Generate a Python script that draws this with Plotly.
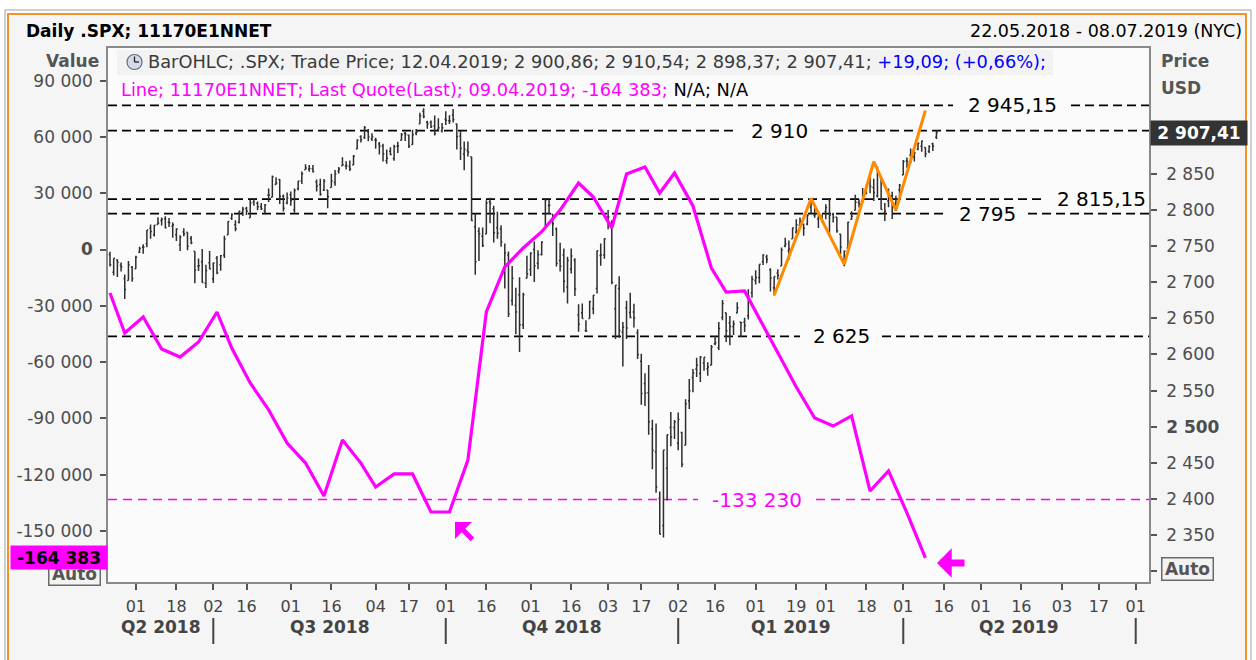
import pandas as pd
import plotly.graph_objects as go

# trading sessions shown on the time axis (22.05.2018 - 08.07.2019, NYSE calendar)
HOLIDAYS = ["2018-05-28", "2018-07-04", "2018-09-03", "2018-11-22", "2018-12-05",
            "2018-12-25", "2019-01-01", "2019-01-21", "2019-02-18", "2019-04-19",
            "2019-05-27", "2019-07-04"]
SESSIONS = pd.bdate_range("2018-05-22", "2019-07-08", freq="C", holidays=HOLIDAYS)

# .SPX daily bars, one row per month (May 2018 ... Apr 2019)
OPEN = [
    2738.34, 2713.98, 2730.94, 2723.60, 2705.11, 2702.43, 2720.98,
    2718.70, 2741.67, 2748.46, 2753.25, 2774.84, 2765.84, 2780.18, 2785.60, 2787.94, 2783.21, 2777.78, 2765.79, 2752.01, 2769.73, 2769.28, 2760.79, 2742.94, 2722.12, 2728.45, 2698.69, 2727.13,
    2704.95, 2733.27, 2724.19, 2737.68, 2765.79, 2788.56, 2779.82, 2783.14, 2796.93, 2802.35, 2789.34, 2811.35, 2809.37, 2804.55, 2799.17, 2820.68, 2817.73, 2835.49, 2842.35, 2819.00, 2809.73,
    2821.17, 2800.48, 2829.62, 2840.29, 2855.92, 2856.79, 2857.19, 2838.90, 2835.46, 2827.88, 2827.95, 2831.44, 2838.32, 2853.93, 2861.51, 2860.99, 2860.29, 2862.35, 2884.69, 2901.45, 2900.62, 2908.94, 2898.37,
    2896.96, 2891.59, 2888.64, 2868.26, 2881.39, 2871.57, 2888.29, 2896.85, 2906.38, 2903.83, 2890.74, 2906.60, 2919.73, 2936.76, 2921.83, 2921.75, 2916.98, 2911.65, 2910.03,
    2926.29, 2923.80, 2931.69, 2919.35, 2902.54, 2877.53, 2882.51, 2873.90, 2776.87, 2770.54, 2763.83, 2767.05, 2811.67, 2802.00, 2775.66, 2773.94, 2721.03, 2737.87, 2674.88, 2667.86, 2682.65, 2640.68, 2705.60,
    2717.58, 2745.45, 2726.37, 2738.40, 2774.13, 2806.38, 2794.10, 2773.93, 2730.05, 2737.90, 2693.52, 2718.54, 2730.74, 2654.60, 2657.74, 2633.36, 2649.97, 2663.75, 2691.45, 2736.97, 2737.76,
    2790.50, 2782.43, 2663.51, 2691.26, 2630.86, 2664.44, 2658.23, 2658.70, 2629.68, 2590.75, 2559.90, 2547.05, 2496.77, 2465.38, 2400.56, 2363.12, 2442.50, 2498.77, 2498.94,
    2476.96, 2491.92, 2474.33, 2535.61, 2568.11, 2580.00, 2573.51, 2588.11, 2580.31, 2585.10, 2614.75, 2609.28, 2651.27, 2657.88, 2643.48, 2638.84, 2657.44, 2644.97, 2644.89, 2653.62, 2685.49,
    2702.32, 2706.49, 2728.34, 2735.05, 2717.53, 2692.36, 2712.40, 2722.61, 2750.30, 2743.50, 2760.24, 2769.28, 2779.05, 2780.24, 2780.67, 2804.35, 2792.36, 2787.50, 2788.11,
    2798.22, 2814.37, 2794.41, 2790.27, 2766.53, 2730.79, 2747.61, 2787.34, 2799.78, 2810.38, 2810.79, 2822.61, 2840.76, 2831.34, 2819.72, 2844.52, 2796.01, 2812.66, 2819.72, 2809.40, 2828.27,
    2848.63, 2868.24, 2876.09, 2873.99, 2884.16, 2888.46, 2886.58, 2881.37, 2891.92, 2900.86,
]
HIGH = [
    2742.24, 2733.33, 2731.97, 2727.36, 2710.67, 2729.34, 2722.50,
    2736.93, 2749.16, 2752.61, 2772.39, 2779.90, 2779.39, 2790.21, 2789.80, 2791.47, 2789.06, 2782.81, 2774.99, 2765.05, 2774.86, 2769.28, 2764.17, 2742.94, 2732.91, 2746.09, 2724.34, 2743.26,
    2727.26, 2736.58, 2737.83, 2764.41, 2784.65, 2795.58, 2785.91, 2799.22, 2804.53, 2804.55, 2814.19, 2816.76, 2812.05, 2809.70, 2808.61, 2829.99, 2848.03, 2845.57, 2843.17, 2821.74, 2824.46,
    2825.83, 2829.91, 2840.38, 2853.29, 2863.43, 2862.44, 2862.48, 2842.20, 2843.40, 2843.11, 2827.95, 2850.49, 2855.63, 2859.76, 2873.23, 2867.54, 2868.78, 2876.16, 2898.25, 2903.77, 2916.50, 2912.46, 2906.32,
    2900.18, 2894.21, 2892.05, 2883.81, 2886.93, 2890.43, 2894.65, 2906.76, 2908.30, 2904.65, 2911.17, 2912.36, 2934.80, 2940.91, 2923.79, 2923.95, 2931.15, 2927.22, 2920.53,
    2937.06, 2931.42, 2939.86, 2919.78, 2909.64, 2894.83, 2894.83, 2874.02, 2795.14, 2775.77, 2775.99, 2813.46, 2816.94, 2806.04, 2797.77, 2778.94, 2753.59, 2742.59, 2722.70, 2692.38, 2706.85, 2685.43, 2736.69,
    2741.67, 2756.55, 2744.27, 2756.82, 2815.15, 2814.75, 2794.10, 2775.99, 2754.60, 2746.80, 2735.38, 2746.75, 2733.16, 2669.44, 2670.73, 2647.55, 2674.35, 2682.53, 2744.00, 2753.75, 2760.88,
    2800.18, 2785.93, 2696.15, 2708.54, 2645.06, 2674.35, 2685.44, 2670.19, 2635.07, 2601.13, 2573.99, 2585.29, 2509.63, 2504.41, 2410.34, 2467.76, 2489.10, 2520.27, 2509.24,
    2519.49, 2493.14, 2538.07, 2566.16, 2579.82, 2595.32, 2597.82, 2596.27, 2589.32, 2613.08, 2625.76, 2645.06, 2675.47, 2657.88, 2653.19, 2647.20, 2672.38, 2644.97, 2650.93, 2690.44, 2708.95,
    2716.66, 2724.99, 2738.98, 2738.08, 2719.32, 2708.07, 2718.05, 2748.19, 2761.85, 2757.90, 2775.66, 2787.33, 2789.88, 2781.58, 2794.20, 2813.49, 2803.12, 2795.76, 2793.73,
    2808.02, 2816.88, 2796.44, 2790.27, 2767.25, 2744.13, 2784.00, 2798.32, 2821.24, 2815.00, 2830.73, 2835.41, 2852.42, 2843.54, 2860.31, 2846.16, 2809.79, 2829.87, 2825.56, 2819.71, 2836.03,
    2869.40, 2872.90, 2885.25, 2881.28, 2893.24, 2895.95, 2886.88, 2889.71, 2893.42, 2910.54,
]
LOW = [
    2721.88, 2709.54, 2707.38, 2714.99, 2676.81, 2702.43, 2700.68,
    2718.70, 2740.54, 2739.51, 2748.46, 2760.16, 2763.59, 2780.17, 2778.78, 2774.65, 2776.52, 2761.73, 2757.12, 2743.19, 2763.91, 2744.39, 2752.68, 2698.67, 2715.60, 2699.38, 2691.99, 2718.03,
    2698.95, 2711.16, 2716.02, 2733.52, 2765.79, 2786.24, 2770.77, 2781.53, 2791.69, 2793.07, 2789.24, 2805.89, 2799.77, 2800.01, 2795.14, 2811.12, 2817.73, 2835.26, 2808.34, 2798.11, 2808.06,
    2805.85, 2796.34, 2827.37, 2835.98, 2855.92, 2853.09, 2851.98, 2825.81, 2819.88, 2826.58, 2802.49, 2831.44, 2833.73, 2850.62, 2861.32, 2856.05, 2854.03, 2862.35, 2884.69, 2893.50, 2898.40, 2895.22, 2895.77,
    2885.13, 2876.92, 2867.29, 2864.12, 2875.94, 2868.29, 2879.20, 2896.39, 2895.77, 2886.16, 2890.43, 2903.82, 2919.73, 2927.11, 2912.63, 2913.70, 2903.28, 2909.27, 2907.50,
    2917.91, 2919.37, 2921.36, 2883.92, 2869.29, 2855.04, 2874.27, 2784.86, 2710.51, 2729.44, 2749.03, 2766.91, 2781.81, 2755.18, 2760.27, 2749.22, 2691.43, 2651.89, 2667.84, 2628.16, 2603.54, 2635.34, 2705.60,
    2708.85, 2700.44, 2717.94, 2737.08, 2774.13, 2794.99, 2764.24, 2722.00, 2714.98, 2685.75, 2670.75, 2712.16, 2681.09, 2631.52, 2649.82, 2631.09, 2649.97, 2655.89, 2684.38, 2722.94, 2732.76,
    2773.38, 2697.18, 2621.53, 2623.14, 2583.23, 2621.30, 2650.26, 2637.27, 2593.84, 2530.54, 2528.71, 2488.96, 2441.18, 2408.55, 2351.10, 2346.58, 2397.94, 2472.89, 2482.82,
    2467.47, 2443.96, 2474.33, 2524.56, 2547.56, 2568.89, 2562.02, 2577.40, 2570.41, 2585.10, 2612.68, 2606.36, 2647.58, 2617.27, 2612.86, 2627.01, 2657.33, 2624.06, 2631.05, 2648.34, 2678.65,
    2696.88, 2698.75, 2724.03, 2726.27, 2687.26, 2681.83, 2703.79, 2722.61, 2748.63, 2731.23, 2760.24, 2767.29, 2774.06, 2764.55, 2779.11, 2794.99, 2789.47, 2775.13, 2782.51,
    2787.38, 2767.66, 2782.97, 2768.69, 2739.09, 2722.27, 2747.61, 2786.73, 2799.78, 2803.46, 2810.79, 2821.99, 2823.27, 2812.43, 2817.38, 2800.47, 2785.02, 2803.99, 2787.72, 2798.77, 2819.23,
    2848.63, 2858.75, 2865.17, 2867.14, 2882.99, 2880.78, 2873.33, 2879.13, 2881.99, 2898.37,
]
CLOSE = [
    2724.44, 2733.29, 2727.76, 2721.33, 2689.86, 2724.01, 2705.27,
    2734.62, 2746.87, 2748.80, 2772.35, 2770.37, 2779.03, 2782.00, 2786.85, 2775.63, 2782.49, 2779.66, 2773.75, 2762.59, 2767.32, 2749.76, 2754.88, 2717.07, 2723.06, 2699.63, 2716.31, 2718.37,
    2726.71, 2713.22, 2736.61, 2759.82, 2784.17, 2793.84, 2774.02, 2798.29, 2801.31, 2798.43, 2809.55, 2815.62, 2804.49, 2801.83, 2806.98, 2820.40, 2846.07, 2837.44, 2818.82, 2802.60, 2816.29,
    2813.36, 2827.22, 2840.35, 2850.40, 2858.45, 2857.70, 2853.58, 2833.28, 2821.93, 2839.96, 2818.37, 2840.69, 2850.13, 2857.05, 2862.96, 2861.82, 2856.98, 2874.69, 2896.74, 2897.52, 2914.04, 2901.13, 2901.52,
    2896.72, 2888.60, 2878.05, 2871.68, 2877.13, 2887.89, 2888.92, 2904.18, 2904.98, 2888.80, 2904.31, 2907.95, 2930.75, 2929.67, 2919.37, 2915.56, 2905.97, 2914.00, 2913.98,
    2924.59, 2923.43, 2925.51, 2901.61, 2885.57, 2884.43, 2880.34, 2785.68, 2728.37, 2767.13, 2750.79, 2809.92, 2809.21, 2768.78, 2767.78, 2755.88, 2740.69, 2656.10, 2705.57, 2658.69, 2641.25, 2682.63, 2711.74,
    2740.37, 2723.06, 2738.31, 2755.45, 2813.89, 2806.83, 2781.01, 2726.22, 2722.18, 2701.58, 2730.20, 2736.27, 2690.73, 2641.89, 2649.93, 2632.56, 2673.45, 2682.17, 2743.79, 2737.80, 2760.17,
    2790.37, 2700.06, 2695.95, 2633.08, 2637.72, 2636.78, 2651.07, 2650.54, 2599.95, 2545.94, 2546.16, 2506.96, 2467.42, 2416.62, 2351.10, 2467.70, 2488.83, 2485.74, 2506.85,
    2510.03, 2447.89, 2531.94, 2549.69, 2574.41, 2584.96, 2596.64, 2596.26, 2582.61, 2610.30, 2616.10, 2635.96, 2670.71, 2632.90, 2638.70, 2642.33, 2664.76, 2643.85, 2640.00, 2681.05, 2704.10,
    2706.53, 2724.87, 2737.70, 2731.61, 2706.05, 2707.88, 2709.80, 2744.73, 2753.03, 2745.73, 2775.60, 2779.76, 2784.70, 2774.88, 2792.67, 2796.11, 2793.90, 2792.38, 2784.49,
    2803.69, 2792.81, 2789.65, 2771.45, 2748.93, 2743.07, 2783.30, 2791.52, 2810.92, 2808.48, 2822.48, 2832.94, 2832.57, 2824.23, 2854.88, 2800.71, 2798.36, 2818.46, 2805.37, 2815.44, 2834.40,
    2867.19, 2867.24, 2873.40, 2879.39, 2892.74, 2895.77, 2878.20, 2888.21, 2888.32, 2907.41,
]

# 11170E1NNET weekly net position
NET_DATES = [
    "2018-05-22", "2018-05-29", "2018-06-05", "2018-06-12", "2018-06-19", "2018-06-26",
    "2018-07-03", "2018-07-10", "2018-07-17", "2018-07-24", "2018-07-31", "2018-08-07",
    "2018-08-14", "2018-08-21", "2018-08-28", "2018-09-04", "2018-09-11", "2018-09-18",
    "2018-09-25", "2018-10-02", "2018-10-09", "2018-10-16", "2018-10-23", "2018-10-30",
    "2018-11-06", "2018-11-13", "2018-11-20", "2018-11-27", "2018-12-04", "2018-12-11",
    "2018-12-18", "2018-12-24", "2018-12-31", "2019-01-08", "2019-01-15", "2019-01-22",
    "2019-01-29", "2019-02-05", "2019-02-12", "2019-02-19", "2019-02-26", "2019-03-05",
    "2019-03-12", "2019-03-19", "2019-03-26", "2019-04-02", "2019-04-09",
]
NET_VALUES = [
    -23200, -44500, -36000, -53000, -57300, -49300,
    -33300, -52500, -71100, -85500, -103100, -113800,
    -131400, -101500, -113800, -126600, -119600, -119600,
    -139900, -139900, -112200, -33300, -9300, 800,
    9500, 21000, 35400, 28000, 11500, 40200,
    44000, 30100, 40800, 23200, -9900, -22700,
    -22100, -40200, -58900, -73300, -89800, -94100,
    -88700, -128700, -118000, -140400, -164383,
]

# drawn zigzag (price)
ZIGZAG_DATES = ["2019-02-08", "2019-02-25", "2019-03-08", "2019-03-20", "2019-03-28", "2019-04-09"]
ZIGZAG_PRICES = [2682, 2816, 2725, 2867, 2800, 2938]

# horizontal levels
PRICE_LEVELS = [2945.15, 2910, 2815.15, 2795, 2625]
NET_LEVEL = -133230

# time axis
TICK_DATES = [
    "2018-06-01", "2018-06-18", "2018-07-02", "2018-07-16", "2018-08-01", "2018-08-16",
    "2018-09-04", "2018-09-17", "2018-10-01", "2018-10-16", "2018-11-01", "2018-11-16",
    "2018-12-03", "2018-12-17", "2019-01-02", "2019-01-16", "2019-02-01", "2019-02-19",
    "2019-03-01", "2019-03-18", "2019-04-01", "2019-04-16", "2019-05-01", "2019-05-16",
    "2019-06-03", "2019-06-17", "2019-07-01",
]
QUARTER_ENDS = ["2018-07-02", "2018-10-01", "2019-01-02", "2019-04-01", "2019-07-01"]
QUARTER_NAMES = ["Q2 2018", "Q3 2018", "Q4 2018", "Q1 2019", "Q2 2019"]

PRICE_TICKS = [2350, 2400, 2450, 2500, 2550, 2600, 2650, 2700, 2750, 2800, 2850]
NET_TICKS = [-150000, -120000, -90000, -60000, -30000, 0, 30000, 60000, 90000]


# ---- helpers -------------------------------------------------------------
POS = {d.strftime("%Y-%m-%d"): i for i, d in enumerate(SESSIONS)}

W, H = 1256, 660
PL, PR, PT, PB = 108, 1149, 48, 582
XR = [-0.54, 281.6]
PRICE_RANGE = [2284.9, 3024.5]
NET_RANGE = [-177190, 107380]

MAGENTA = "#ff00ff"
ORANGE = "#ff8a00"
FONT = "DejaVu Sans"


def px(x):
    return (x - PL) / (PR - PL)


def py(y):
    return (PB - y) / (PB - PT)


def xfrac(i):
    return (i - XR[0]) / (XR[1] - XR[0])


def fmt(v, d=None):
    if d is None:
        d = 0 if float(v).is_integer() else 2
    return f"{v:,.{d}f}".replace(",", " ").replace(".", ",")


def note(x, y, text, xref="paper", yref="paper", xanchor="center", **kw):
    return dict(xref=xref, yref=yref, x=x, y=y, text=text, showarrow=False,
                xanchor=xanchor, yanchor="middle", **kw)


bars_x = list(range(len(CLOSE)))

fig = go.Figure()

fig.add_trace(go.Ohlc(
    x=bars_x, open=OPEN, high=HIGH, low=LOW, close=CLOSE,
    increasing_line_color="#2e2e2e", decreasing_line_color="#2e2e2e",
    line_width=1.5, tickwidth=0.35, hoverinfo="skip", yaxis="y",
))
fig.add_trace(go.Scatter(
    x=[POS[d] for d in ZIGZAG_DATES], y=ZIGZAG_PRICES, mode="lines",
    line=dict(color=ORANGE, width=3), hoverinfo="skip", yaxis="y",
))
fig.add_trace(go.Scatter(
    x=[POS[d] for d in NET_DATES], y=NET_VALUES, mode="lines",
    line=dict(color=MAGENTA, width=3.2), hoverinfo="skip", yaxis="y2",
))

shapes = []
# window frame and chart background
shapes.append(dict(type="rect", xref="paper", yref="paper", layer="below",
                   x0=px(5), x1=px(1251), y0=py(700), y1=py(10),
                   line=dict(color="#a0a0a0", width=1), fillcolor="#ffffff"))
shapes.append(dict(type="rect", xref="paper", yref="paper", layer="below",
                   x0=px(8), x1=px(1246), y0=py(700), y1=py(14),
                   line=dict(color="#f4922a", width=2), fillcolor="#f5f5f5"))
shapes.append(dict(type="rect", xref="paper", yref="paper", layer="below",
                   x0=0, x1=1, y0=0, y1=1, line=dict(width=0), fillcolor="#fbfbfb"))
# legend row highlight
shapes.append(dict(type="rect", xref="paper", yref="paper", layer="below",
                   x0=px(117), x1=px(1053), y0=py(75), y1=py(50),
                   line=dict(width=0), fillcolor="#f2f2f2"))
# clock icon
shapes.append(dict(type="circle", xref="paper", yref="paper", layer="above",
                   x0=px(127), x1=px(142), y0=py(69.5), y1=py(54.5),
                   line=dict(color="#5b6b82", width=1.2), fillcolor="#d4dbe6"))
shapes.append(dict(type="line", xref="paper", yref="paper", layer="above",
                   x0=px(134.5), x1=px(134.5), y0=py(62), y1=py(56.5),
                   line=dict(color="#222222", width=1.3)))
shapes.append(dict(type="line", xref="paper", yref="paper", layer="above",
                   x0=px(134.5), x1=px(139), y0=py(62), y1=py(62),
                   line=dict(color="#222222", width=1.3)))

annotations = []

# dashed levels with labels sitting in a gap of the line
LEVEL_LABEL_X = [px(1012), px(779), px(1101), px(987), px(841)]
for level, lx in zip(PRICE_LEVELS, LEVEL_LABEL_X):
    text = fmt(level)
    half = (0.6 * 20 * len(text) / 2 + 11) / (PR - PL)
    for x0, x1 in [(0, lx - half), (lx + half, 1)]:
        if x1 - x0 > 0.002 and x0 < 1:
            shapes.append(dict(type="line", xref="paper", yref="y", layer="below",
                               x0=x0, x1=min(x1, 1), y0=level, y1=level,
                               line=dict(color="#000000", width=1.8, dash="9px,5px")))
    annotations.append(note(lx, level, text, yref="y", font=dict(size=20, color="#000000")))

nx = px(757)
ntext = fmt(NET_LEVEL)
nhalf = (0.6 * 20 * len(ntext) / 2 + 11) / (PR - PL)
for x0, x1 in [(0, nx - nhalf), (nx + nhalf, 1)]:
    shapes.append(dict(type="line", xref="paper", yref="y2", layer="below",
                       x0=x0, x1=x1, y0=NET_LEVEL, y1=NET_LEVEL,
                       line=dict(color=MAGENTA, width=1.5, dash="9px,6px")))
annotations.append(note(nx, NET_LEVEL, ntext, yref="y2", font=dict(size=20, color=MAGENTA)))

# quarter row under the day ticks
bounds = [XR[0]] + [POS[d] for d in QUARTER_ENDS]
for name, a, b in zip(QUARTER_NAMES, bounds[:-1], bounds[1:]):
    annotations.append(note((a + b) / 2, py(627), f"<b>{name}</b>", xref="x",
                            font=dict(size=17, color="#444444")))
for d in QUARTER_ENDS:
    shapes.append(dict(type="line", xref="paper", yref="paper", layer="above",
                       x0=xfrac(POS[d]), x1=xfrac(POS[d]), y0=py(644), y1=py(618),
                       line=dict(color="#444444", width=2)))

# headers
annotations += [
    note(px(24), py(31), "<b>Daily .SPX; 11170E1NNET</b>", xanchor="left",
         font=dict(size=17, color="#000000")),
    note(px(1244), py(31), "22.05.2018 - 08.07.2019 (NYC)", xanchor="right",
         font=dict(size=17.5, color="#000000")),
    note(px(101), py(61), "<b>Value</b>", xanchor="right", font=dict(size=17, color="#555555")),
    note(px(1159), py(61), "<b>Price</b>", xanchor="left", font=dict(size=17, color="#555555")),
    note(px(1159), py(88), "<b>USD</b>", xanchor="left", font=dict(size=17, color="#555555")),
]

# legend lines built from the last values
last_day = SESSIONS[len(CLOSE) - 1].strftime("%d.%m.%Y")
chg = CLOSE[-1] - CLOSE[-2]
pct = chg / CLOSE[-2] * 100
line1 = (f"BarOHLC; .SPX; Trade Price; {last_day}; {fmt(OPEN[-1], 2)}; {fmt(HIGH[-1], 2)}; "
         f"{fmt(LOW[-1], 2)}; {fmt(CLOSE[-1], 2)}; "
         f"<span style='color:#0000ff'>+{fmt(chg, 2)}; (+{fmt(pct, 2)}%);</span>")
net_day = pd.Timestamp(NET_DATES[-1]).strftime("%d.%m.%Y")
line2 = (f"<span style='color:{MAGENTA}'>Line; 11170E1NNET; Last Quote(Last); {net_day}; "
         f"{fmt(NET_VALUES[-1])};</span> N/A; N/A")
annotations += [
    note(px(146), py(62), line1, xanchor="left", font=dict(size=17.8, color="#3a3a3a")),
    note(px(119), py(90), line2, xanchor="left", font=dict(size=17.8, color="#000000")),
]

# last value boxes and Auto buttons
annotations += [
    note(px(1199), CLOSE[-1], f"<b>{fmt(CLOSE[-1], 2)}</b>", yref="y",
         width=94, height=22, bgcolor="#333333", font=dict(size=17, color="#ffffff")),
    note(px(1187), py(569), "<b>Auto</b>", width=48, height=19, bgcolor="#f3f3f3",
         bordercolor="#6a6a6a", borderwidth=1.5, font=dict(size=17, color="#555555")),
    note(px(74), py(574), "<b>Auto</b>", width=48, height=19, bgcolor="#f3f3f3",
         bordercolor="#6a6a6a", borderwidth=1.5, font=dict(size=17, color="#555555")),
    note(px(59), NET_VALUES[-1], f"<b>{fmt(NET_VALUES[-1])}</b>", yref="y2",
         width=94, height=21, bgcolor=MAGENTA, font=dict(size=17, color="#000000")),
]

# magenta pointer arrows
annotations += [
    dict(xref="paper", yref="paper", x=px(455), y=py(522), ax=19, ay=19,
         text="", showarrow=True, arrowhead=1, arrowsize=0.8, arrowwidth=5,
         arrowcolor=MAGENTA, standoff=0),
    dict(xref="paper", yref="paper", x=px(937), y=py(563), ax=29, ay=0,
         text="", showarrow=True, arrowhead=1, arrowsize=0.7, arrowwidth=7,
         arrowcolor=MAGENTA, standoff=0),
]

fig.update_layout(
    width=W, height=H,
    margin=dict(l=PL, r=W - PR, t=PT, b=H - PB),
    paper_bgcolor="#ffffff", plot_bgcolor="#fbfbfb",
    font=dict(family=FONT, size=17, color="#4d4d4d"),
    showlegend=False,
    shapes=shapes, annotations=annotations,
    xaxis=dict(
        range=XR, rangeslider=dict(visible=False),
        tickmode="array", tickvals=[POS[d] for d in TICK_DATES],
        ticktext=[d[-2:] for d in TICK_DATES],
        ticks="outside", ticklen=6, tickwidth=1.5, tickcolor="#555555",
        tickfont=dict(size=16, color="#444444"), ticklabelstandoff=3,
        showline=True, linecolor="#8a8a8a", linewidth=1.5, mirror=True,
        showgrid=False, zeroline=False,
    ),
    yaxis=dict(
        side="right", range=PRICE_RANGE,
        tickmode="array", tickvals=[2300] + PRICE_TICKS,
        ticktext=[""] + [f"<b>{fmt(t)}</b>" if t == 2500 else fmt(t) for t in PRICE_TICKS],
        ticks="outside", ticklen=6, tickwidth=1.5, tickcolor="#555555",
        tickfont=dict(size=17, color="#4d4d4d"), ticklabelstandoff=6,
        showline=True, linecolor="#8a8a8a", linewidth=1.5,
        showgrid=False, zeroline=False,
    ),
    yaxis2=dict(
        overlaying="y", side="left", range=NET_RANGE,
        tickmode="array", tickvals=NET_TICKS,
        ticktext=[f"<b>{fmt(t)}</b>" if t == 0 else fmt(t) for t in NET_TICKS],
        ticks="outside", ticklen=6, tickwidth=1.5, tickcolor="#555555",
        tickfont=dict(size=17, color="#4d4d4d"), ticklabelstandoff=4,
        showline=True, linecolor="#8a8a8a", linewidth=1.5,
        showgrid=False, zeroline=False,
    ),
)

# the page body has a default 8px margin; drop it so the figure sits at the window origin
fig.write_html("out.html", config={"displayModeBar": False},
               post_script="document.body.style.margin='0';")
